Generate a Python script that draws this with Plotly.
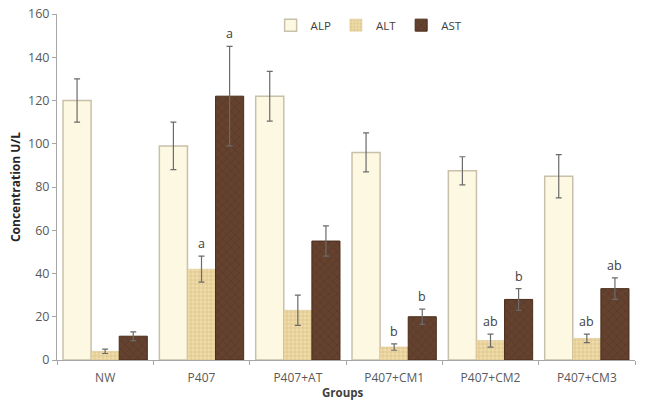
import plotly.graph_objects as go

groups = ["NW", "P407", "P407+AT", "P407+CM1", "P407+CM2", "P407+CM3"]
alp = [120, 99, 122, 96, 87.5, 85]
alp_err = [10, 11, 11.5, 9, 6.5, 10]
alt = [4, 42, 23, 6, 9, 10]
alt_err = [1, 6, 7, 1.5, 3, 2]
ast = [11, 122, 55, 20, 28, 33]
ast_err = [2, 23, 7, 3.5, 5, 5]
alt_letters = ["", "a", "", "b", "ab", "ab"]
ast_letters = ["", "a", "", "b", "b", "ab"]

err_style = dict(type="data", color="#6b6b6b", thickness=1.2, width=3)

fig = go.Figure()
fig.add_trace(go.Bar(
    name="ALP", x=groups, y=alp,
    error_y=dict(array=alp_err, **err_style),
    marker=dict(color="#fdf8e2", line=dict(color="#c9c0ab", width=1.5)),
))
fig.add_trace(go.Bar(
    name="ALT", x=groups, y=alt,
    error_y=dict(array=alt_err, **err_style),
    marker=dict(color="#efdcaa", line=dict(color="#d9c28a", width=0.5),
                pattern=dict(shape="+", fgcolor="#c5a060", bgcolor="#efdcaa", size=4, solidity=0.3)),
))
fig.add_trace(go.Bar(
    name="AST", x=groups, y=ast,
    error_y=dict(array=ast_err, **err_style),
    marker=dict(color="#623f29", line=dict(color="#4a2d1a", width=1),
                pattern=dict(shape="x", fgcolor="#4b2e1c", bgcolor="#654230", size=6, solidity=0.25)),
))

annotations = []
for i, g in enumerate(groups):
    if alt_letters[i]:
        annotations.append(dict(x=g, y=alt[i] + alt_err[i], xref="x", yref="y",
                                text=alt_letters[i], showarrow=False, yanchor="bottom",
                                yshift=2, font=dict(size=12.5, color="#404040")))
    if ast_letters[i]:
        annotations.append(dict(x=g, y=ast[i] + ast_err[i], xref="x", yref="y",
                                text=ast_letters[i], showarrow=False, yanchor="bottom",
                                xshift=28, yshift=2, font=dict(size=12.5, color="#404040")))

annotations.append(dict(x=0.495, y=0, xref="paper", yref="paper", text="<b>Groups</b>",
                        showarrow=False, yanchor="top", xanchor="center", yshift=-24,
                        borderpad=0, font=dict(size=11.5, color="#404040")))

fig.update_layout(
    width=647, height=402,
    margin=dict(l=57, r=12, t=13, b=42),
    paper_bgcolor="white", plot_bgcolor="white",
    barmode="group", bargap=0.125, bargroupgap=0,
    font=dict(family="Open Sans, Liberation Sans, sans-serif", size=12, color="#595959"),
    showlegend=True,
    legend=dict(orientation="h", x=0.54, y=0.965, xanchor="center", yanchor="middle",
                font=dict(size=11.5, color="#404040"), itemwidth=30, traceorder="normal",
                bgcolor="rgba(0,0,0,0)"),
    annotations=annotations,
)
fig.update_xaxes(
    showline=True, linecolor="#a6a6a6", linewidth=1,
    ticks="outside", tickson="boundaries", ticklen=4, tickcolor="#a6a6a6",
    ticklabelstandoff=7,
    tickfont=dict(size=12, color="#595959"),
    automargin=False,
)
fig.update_yaxes(
    range=[0, 160], dtick=20, showgrid=False, zeroline=False,
    showline=True, linecolor="#a6a6a6", linewidth=1,
    ticks="outside", ticklen=4, tickcolor="#a6a6a6",
    tickfont=dict(size=12.5, color="#595959"),
    title=dict(text="<b>Concentration U/L</b>", font=dict(size=12, color="#262626"), standoff=4),
    automargin=False,
)

fig.write_html("out.html")
